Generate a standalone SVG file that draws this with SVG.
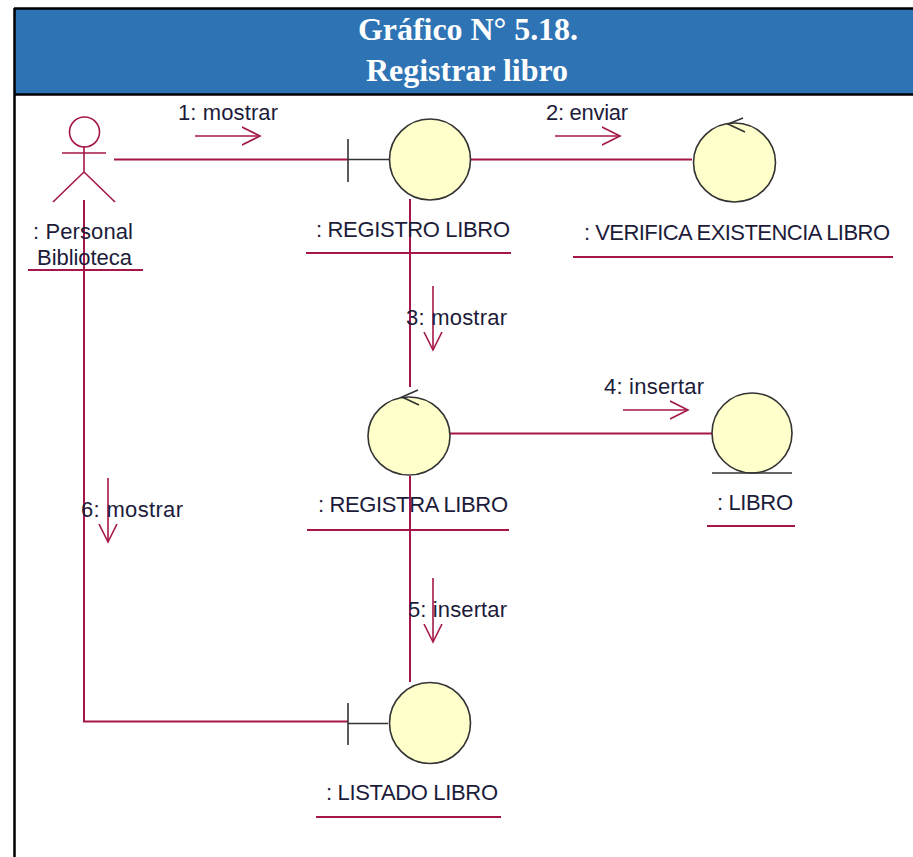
<svg xmlns="http://www.w3.org/2000/svg" width="913" height="857" viewBox="0 0 913 857">
<style>
.title{font-family:"Liberation Serif",serif;font-weight:bold;font-size:32px;fill:#fff;text-anchor:middle}
.t{font-family:"Liberation Sans",Arial,sans-serif;font-size:22px;fill:#1c1c3a}
.c{fill:none;stroke:#a5174a;stroke-width:2}
.a{fill:none;stroke:#a5174a;stroke-width:1.6}
.k{fill:none;stroke:#333;stroke-width:1.6}
.o{fill:#ffffcb;stroke:#333;stroke-width:1.6}
.u{stroke:#a5174a;stroke-width:2}
</style>
<defs>
<marker id="h" markerUnits="userSpaceOnUse" markerWidth="22" markerHeight="22" refX="18" refY="10" orient="auto"><path d="M0 1L18 10L0 19" class="a"/></marker>
</defs>
<rect width="913" height="857" fill="#fff"/>
<g id="header">
<rect x="15" y="9" width="898" height="85" fill="#2e74b5"/>
<path d="M14 8.500H913M14 94.500H913M14.500 8V857" fill="none" stroke="#000" stroke-width="2.500"/>
<text class="title" x="468" y="40" textLength="220">Gráfico N° 5.18.</text>
<text class="title" x="467" y="81" textLength="202">Registrar libro</text>
</g>
<g id="connectors">
<path class="c" d="M114 159.500H348"/>
<path class="c" d="M470 159.500H692"/>
<path class="c" d="M410 199V387"/>
<path class="c" d="M410 476V682"/>
<path class="c" d="M450 433.500H712"/>
<path class="c" d="M84 200V721.500H348"/>
<path class="a" d="M195 136H260" marker-end="url(#h)"/>
<path class="a" d="M555 136H620" marker-end="url(#h)"/>
<path class="a" d="M433 286V350" marker-end="url(#h)"/>
<path class="a" d="M623 410H688" marker-end="url(#h)"/>
<path class="a" d="M433 578V642" marker-end="url(#h)"/>
<path class="a" d="M108 478V542" marker-end="url(#h)"/>
<text class="t" x="178" y="120" textLength="100">1: mostrar</text>
<text class="t" x="546" y="120" textLength="82">2: enviar</text>
<text class="t" x="406" y="325" textLength="101">3: mostrar</text>
<text class="t" x="604" y="394" textLength="100">4: insertar</text>
<text class="t" x="408" y="617" textLength="99">5: insertar</text>
<text class="t" x="81" y="517" textLength="102">6: mostrar</text>
</g>
<g id="actor">
<circle cx="84.500" cy="132" r="15" class="a"/>
<path class="a" d="M62 153H106M84 146V172L53 202M84 172L115 202"/>
<text class="t" x="33" y="239" textLength="100">: Personal</text>
<text class="t" x="37" y="265" textLength="95">Biblioteca</text>
<path class="u" d="M28 270H143"/>
</g>
<g id="registro">
<path class="k" d="M348 139V182M348 159.500H389"/>
<circle cx="430" cy="159.500" r="40.500" class="o"/>
<text class="t" x="316" y="237" textLength="194">: REGISTRO LIBRO</text>
<path class="u" d="M306 253H511"/>
</g>
<g id="verifica">
<ellipse cx="734.500" cy="162.500" rx="41" ry="39.500" class="o"/>
<path class="k" d="M743 118L728 124L745 132"/>
<text class="t" x="584" y="240" textLength="306">: VERIFICA EXISTENCIA LIBRO</text>
<path class="u" d="M573 257H893"/>
</g>
<g id="registra">
<ellipse cx="409" cy="436" rx="41" ry="39" class="o"/>
<path class="k" d="M418 390L402 397L419 405"/>
<text class="t" x="318" y="512" textLength="190">: REGISTRA LIBRO</text>
<path class="u" d="M307 530H509"/>
</g>
<g id="libro">
<circle cx="752" cy="433" r="40" class="o"/>
<path class="k" d="M712 473H792"/>
<text class="t" x="717" y="510" textLength="76">: LIBRO</text>
<path class="u" d="M707 526H795"/>
</g>
<g id="listado">
<path class="k" d="M348 703V745M348 723.500H388"/>
<circle cx="430" cy="723" r="40.500" class="o"/>
<text class="t" x="326" y="800" textLength="172">: LISTADO LIBRO</text>
<path class="u" d="M316 817H501"/>
</g>
</svg>
